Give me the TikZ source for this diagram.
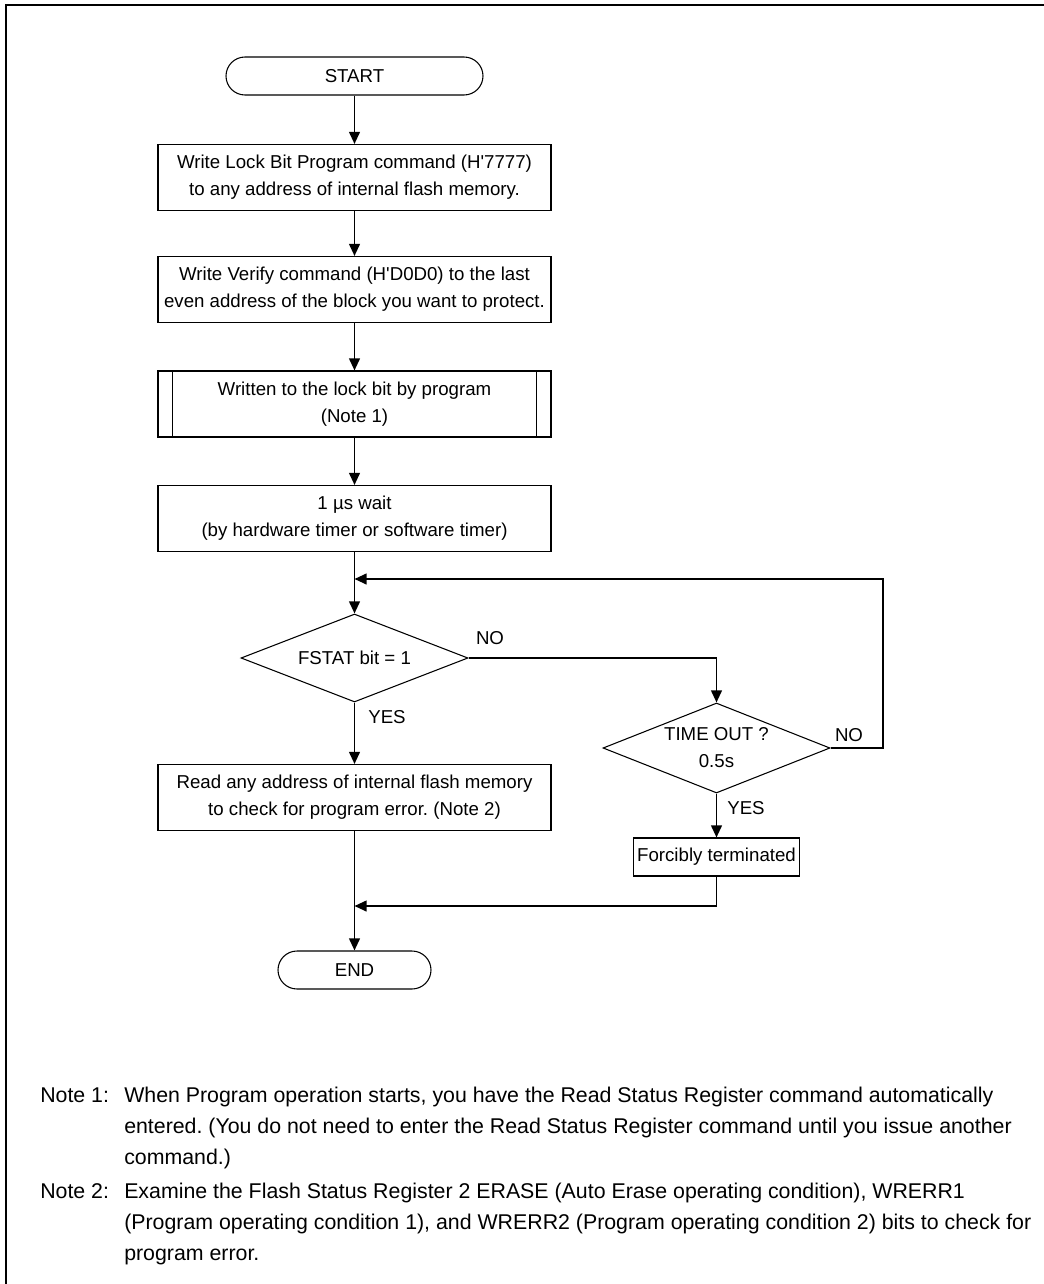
\documentclass[tikz,border=0pt]{standalone}
\usepackage{fontspec}
\setmainfont{Liberation Sans}
\usetikzlibrary{arrows.meta,shapes.geometric}

\newcommand{\boxfont}{\fontsize{14}{20.25}\selectfont\frenchspacing}
\newcommand{\notefont}{\fontsize{16}{23.25}\selectfont\frenchspacing}

\tikzset{
  flowbox/.style={draw, line width=0.8pt, minimum width=294.75pt, minimum height=49.5pt,
    align=center, font=\boxfont, inner sep=0pt},
  termbox/.style={draw, line width=0.8pt, rounded corners=14.25pt, minimum height=28.5pt,
    font=\boxfont, inner sep=0pt},
  testbox/.style={draw, diamond, aspect=2.58, line width=0.8pt, minimum width=170.25pt, minimum height=66pt,
    inner sep=0pt, align=center, font=\boxfont},
  flowline/.style={line width=1.4pt, -{Triangle[length=9pt,width=8pt]}},
  answer/.style={font=\boxfont, inner sep=0pt},
}

\begin{document}
\begin{tikzpicture}[x=0.75pt,y=-0.75pt]

    \useasboundingbox (0,0) rectangle (1044,1284);
    \draw[line width=1.2pt] (1044,5) -- (6,5) -- (6,1284); % ----- Frame

    \node[termbox, minimum width=192.75pt] (start) at (354.5,76) {START};
    \node[flowbox] (lockcmd) at (354.5,177.5) {Write Lock Bit Program command (H\textquotesingle 7777)\\to any address of internal flash memory.};
    \node[flowbox] (verify) at (354.5,289.5) {Write Verify command (H\textquotesingle D0D0) to the last\\even address of the block you want to protect.};
    \node[flowbox] (program) at (354.5,404) {Written to the lock bit by program\\(Note 1)};
    \draw[line width=0.8pt] ([xshift=11.25pt]program.north west) -- ([xshift=11.25pt]program.south west);
    \draw[line width=0.8pt] ([xshift=-11.25pt]program.north east) -- ([xshift=-11.25pt]program.south east);
    \node[flowbox] (wait) at (354.5,518.5) {1 µs wait\\(by hardware timer or software timer)};

    \node[testbox] (fstat) at (354.5,658) {FSTAT bit = 1}; % ----- Tests
    \node[testbox, minimum height=67.5pt] (timeout) at (716.5,748) {TIME OUT ?\\0.5s};

    \node[flowbox] (readerr) at (354.5,797.5) {Read any address of internal flash memory\\to check for program error. (Note 2)};
    \node[draw, line width=0.8pt, minimum width=124.5pt, minimum height=28.5pt, font=\boxfont, inner sep=0pt] (forced) at (716.5,857) {Forcibly terminated};
    \node[termbox, minimum width=114.75pt] (stop) at (354.5,970) {END};

    \coordinate (loopin) at (354.5,579);
    \coordinate (loopturn) at (883,579);
    \coordinate (joinin) at (354.5,906);

    \draw[flowline] (start.south) -- (lockcmd.north); % ----- Connectors
    \draw[flowline] (lockcmd.south) -- (verify.north);
    \draw[flowline] (verify.south) -- (program.north);
    \draw[flowline] (program.south) -- (wait.north);
    \draw[flowline] (wait.south) -- (fstat.north);
    \draw[flowline] (fstat.east) -| (timeout.north);
    \draw[flowline] (timeout.east) -| (loopturn) -- (loopin);
    \draw[flowline] (fstat.south) -- (readerr.north);
    \draw[flowline] (timeout.south) -- (forced.north);
    \draw[flowline] (forced.south) |- (joinin);
    \draw[flowline] (readerr.south) -- (stop.north);

    \node[answer] (no1) at (490,638) {NO};
    \node[answer] (no2) at (849,735) {NO};
    \node[answer] (yes1) at (387,717) {YES};
    \node[answer] (yes2) at (746,808) {YES};

    \node[anchor=base west, inner sep=0pt, font=\notefont] (notes) at (40,1102) {% ----- Notes
      \begin{tabular}[t]{@{}p{63pt}@{}l@{}}
        Note 1: & When Program operation starts, you have the Read Status Register command automatically\\
                & entered. (You do not need to enter the Read Status Register command until you issue another\\
                & command.)\\[2.25pt]
        Note 2: & Examine the Flash Status Register 2 ERASE (Auto Erase operating condition), WRERR1\\
                & (Program operating condition 1), and WRERR2 (Program operating condition 2) bits to check for\\
                & program error.
      \end{tabular}};
\end{tikzpicture}
\end{document}
